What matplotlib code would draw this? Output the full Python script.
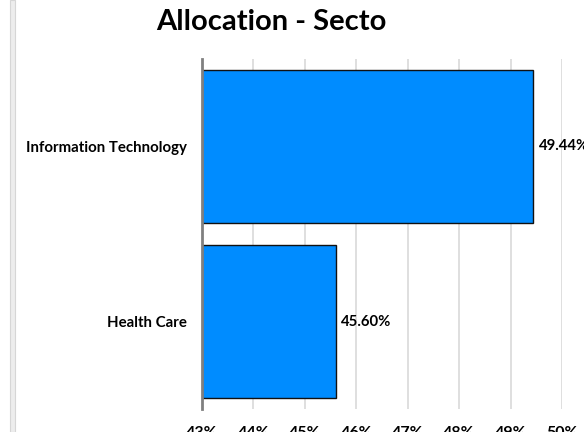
import matplotlib
matplotlib.use("Agg")
import matplotlib.pyplot as plt
from matplotlib.patches import Rectangle

categories = ["Information Technology", "Health Care"]
values = [49.44, 45.60]
xticks = [43, 44, 45, 46, 47, 48, 49, 50]
title = "Allocation - Secto"

plt.rcParams['font.family'] = ['Lato', 'DejaVu Sans']
plt.rcParams['font.weight'] = 'bold'

W, H = 584, 432
fig = plt.figure(figsize=(W / 100, H / 100), dpi=100)
fig.patch.set_facecolor('white')

# left frame band
fig.patches.append(Rectangle((10 / W, 0), 5 / W, 1, transform=fig.transFigure,
                             facecolor='#ededed', edgecolor='#d6d6d6', lw=0.8))

left, right, top, bottom = 202, 562, 59, 409
ax = fig.add_axes([left / W, 1 - bottom / H, (right - left) / W, (bottom - top) / H])

y = list(range(len(categories)))
ax.barh(y, [v - xticks[0] for v in values], left=xticks[0], height=0.87,
        color='#008CFF', edgecolor='#111111', linewidth=1.0, zorder=3)
ax.set_ylim(len(categories) - 0.5, -0.5)
ax.set_xlim(xticks[0], xticks[-1])
ax.set_xticks(xticks)
ax.set_xticklabels([f"{t}%" for t in xticks], fontsize=11.5, fontweight='bold')
ax.set_yticks(y)
ax.set_yticklabels(categories, fontsize=10.8, fontweight='bold')
ax.tick_params(axis='x', length=0, pad=12.5)
ax.tick_params(axis='y', length=0, pad=11)
ax.grid(axis='x', color='#d9d9d9', linewidth=1.2, zorder=0)
for s in ['top', 'right', 'bottom']:
    ax.spines[s].set_visible(False)
ax.spines['left'].set_color('#808080')
ax.spines['left'].set_linewidth(2)
ax.spines['left'].set_zorder(4)

for yi, v in zip(y, values):
    ax.text(v + 0.11, yi, f"{v:.2f}%", va='center', ha='left', fontsize=10.7,
            fontweight='bold', clip_on=False, zorder=5)

fig.text(271 / W, 1 - 22 / H, title, ha='center', va='center', fontsize=21,
         fontweight='bold')

fig.savefig("out.png", dpi=100)
